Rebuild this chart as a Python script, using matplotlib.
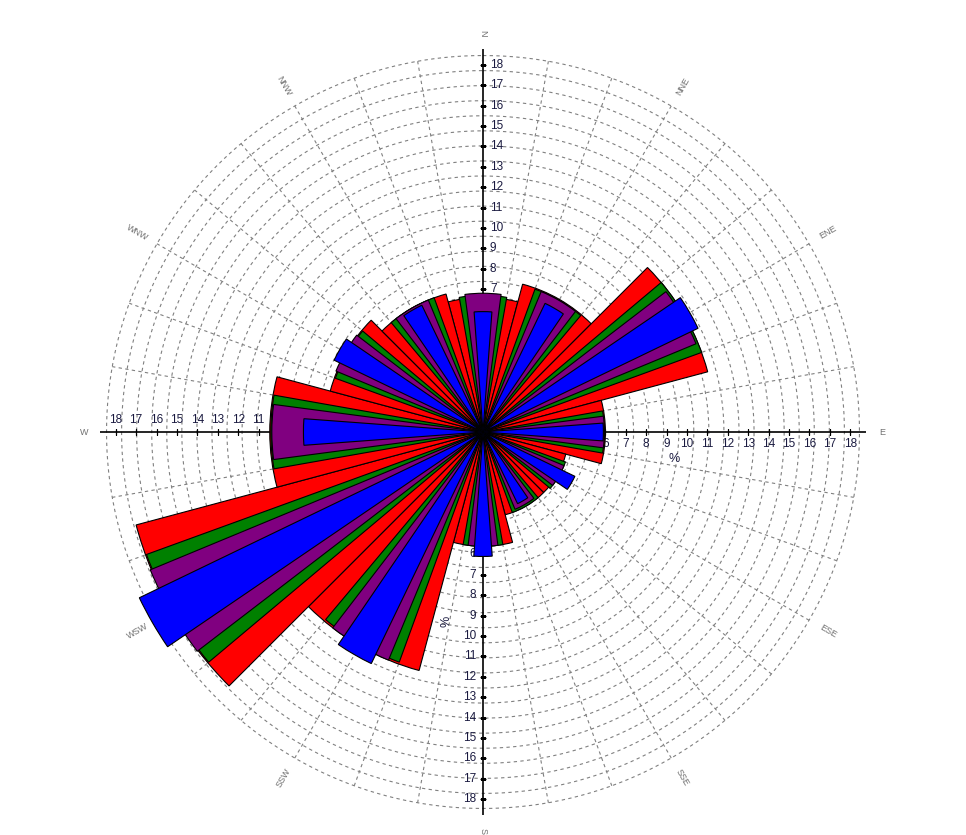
import numpy as np
import matplotlib
matplotlib.use("Agg")
import matplotlib.pyplot as plt
from matplotlib import transforms

# ---------------- data ----------------
directions = ['N', 'NNE', 'ENE', 'E', 'ESE', 'SSE', 'S', 'SSW', 'WSW', 'W', 'WNW', 'NNW']
angles_deg = [0, 30, 60, 90, 120, 150, 180, 210, 240, 270, 300, 330]
red_vals    = [6.6, 7.5, 11.4, 6.0, 4.2, 4.2, 5.6, 12.1, 17.6, 10.45, 7.75, 7.0]
green_vals  = [6.7, 7.45, 11.4, 5.95, 4.3, 4.2, 5.6, 12.0, 17.55, 10.4, 7.7, 7.0]
purple_vals = [6.8, 7.45, 11.3, 5.95, 4.3, 4.1, 5.6, 12.1, 17.65, 10.35, 7.8, 7.0]
blue_vals   = [5.9, 7.0, 11.7, 5.9, 5.0, 3.9, 6.1, 12.6, 18.7, 8.8, 8.1, 6.9]
axis_ticks = list(range(1, 19))

# ---------------- figure ----------------
W, H = 966, 835
fig = plt.figure(figsize=(W / 100, H / 100), dpi=100)
cx, cy, R = 483, 432, 383
ax = fig.add_axes([(cx - R) / W, (H - cy - R) / H, 2 * R / W, 2 * R / H], projection='polar')
ax.set_theta_zero_location('N')
ax.set_theta_direction(-1)
rmax = 18.77
ax.set_ylim(0, rmax)
ax.axis('off')

theta = np.deg2rad(angles_deg)

# grid circles
grid_step = 0.738
tt = np.linspace(0, 2 * np.pi, 721)
for k in range(1, 26):
    ax.plot(tt, np.full_like(tt, k * grid_step), color='#808080', lw=0.8,
            ls=(0, (3, 3)), zorder=1)
# radial spokes
for a in range(0, 360, 10):
    if a % 90 == 0:
        continue
    ax.plot([np.deg2rad(a)] * 2, [0, 25 * grid_step], color='#808080', lw=0.8,
            ls=(0, (3, 3)), zorder=1)

# cardinal axes with ticks and labels
fs = 8.5
offsets = {0: (7, 0, 'left', 'center'), 90: (0, -6, 'center', 'top'),
           180: (-7, 0, 'right', 'center'), 270: (0, 6, 'center', 'bottom')}
for a in (0, 90, 180, 270):
    th = np.deg2rad(a)
    ax.plot([th, th], [0, rmax], color='black', lw=1.2, zorder=2)
    mk = '_' if a in (0, 180) else '|'
    ax.plot([th] * len(axis_ticks), axis_ticks, ls='none', marker=mk,
            markersize=4, color='black', mew=0.9, zorder=2)
    dx, dy, ha, va = offsets[a]
    tr = transforms.offset_copy(ax.transData, fig=fig, x=dx, y=dy, units='dots')
    for v in axis_ticks:
        ax.text(th, v, str(v), transform=tr, ha=ha, va=va, fontsize=fs,
                family=['Liberation Sans', 'DejaVu Sans'], color='#1a1a40', zorder=2)

# percent labels
tr = transforms.offset_copy(ax.transData, fig=fig, x=0, y=-27, units='dots')
ax.text(np.deg2rad(90), 9.36, '%', transform=tr, ha='center', va='center',
        fontsize=fs + 0.5, family=['Liberation Sans'], color='#1a1a40', zorder=2)
tr = transforms.offset_copy(ax.transData, fig=fig, x=-36, y=0, units='dots')
ax.text(np.deg2rad(180), 9.3, '%', transform=tr, ha='center', va='center',
        fontsize=fs + 0.5, family=['Liberation Sans'], color='#1a1a40', zorder=2,
        rotation=90)

# bars
series = [(red_vals, '#FF0000', 30), (green_vals, '#008000', 20),
          (purple_vals, '#800080', 15), (blue_vals, '#0000FF', 8.5)]
for z, (vals, col, wdeg) in enumerate(series):
    ax.bar(theta, vals, width=np.deg2rad(wdeg), bottom=0, color=col,
           edgecolor='black', linewidth=0.8, align='center', zorder=3 + z)

# compass labels
for name, a in zip(directions, angles_deg):
    math_ang = 90 - a
    rot = ((math_ang + 90) % 180) - 90
    ax.text(np.deg2rad(a), 19.55, name, ha='center', va='center', rotation=rot,
            rotation_mode='anchor', fontsize=6.5, color='#707070',
            family=['Liberation Sans', 'DejaVu Sans'], clip_on=False)

fig.savefig('out.png', dpi=100, facecolor='white')
